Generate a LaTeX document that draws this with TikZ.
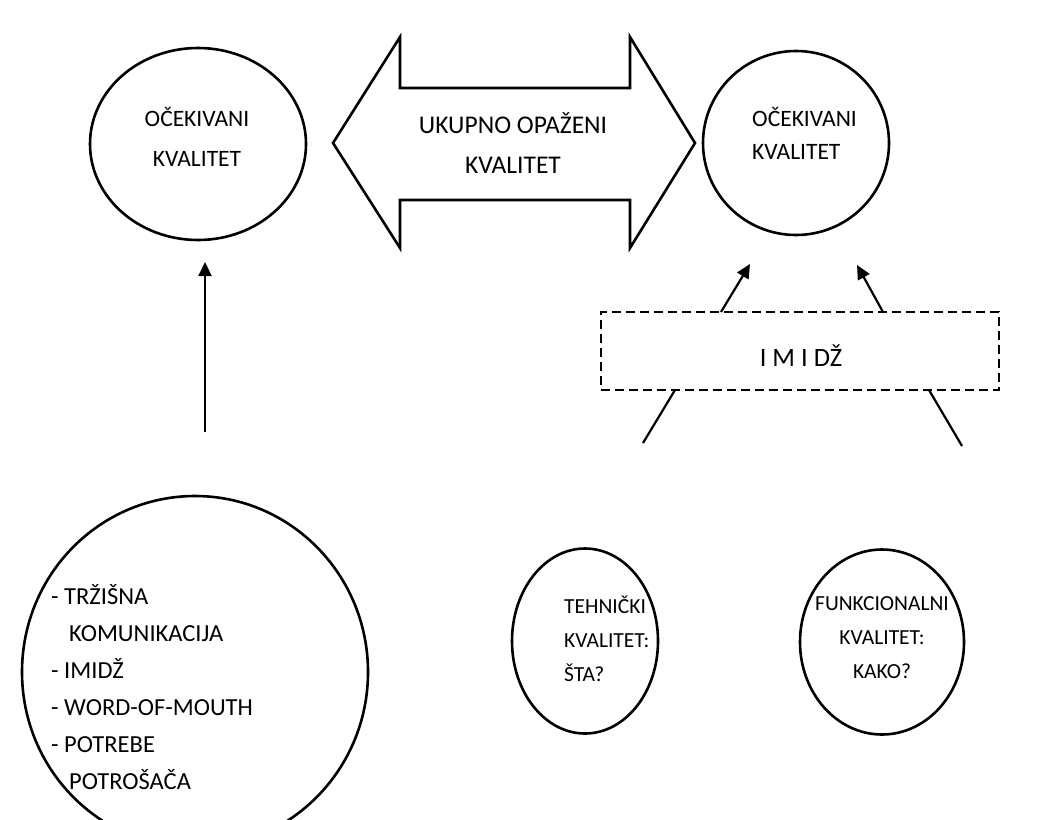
\documentclass[tikz,border=0pt]{standalone}
\usepackage{fontspec}
\setmainfont{Carlito}
\usetikzlibrary{arrows.meta,shapes.geometric}
\begin{document}
\begin{tikzpicture}[x=1pt,y=-1pt,
  bubble/.style={draw, line width=2.6pt, ellipse, inner sep=0pt},
  txt/.style={inner sep=0pt, align=#1},
  txt/.default=center,
  link/.style={line width=2.2pt, -{Triangle[length=14pt,width=13pt]}},
  plain/.style={line width=2.2pt},
  imbox/.style={draw, line width=1.8pt, dash pattern=on 9pt off 5pt}]
  \useasboundingbox (0,0) rectangle (1040,819);

  % expected quality, left
  \node[bubble, minimum width=216pt, minimum height=192pt] (expL) at (198,144) {};
  \node[txt, font=\fontsize{23.5}{40}\selectfont] (expLt) at (197,137) {OČEKIVANI\\KVALITET};

  % expected quality, right
  \node[bubble, minimum width=186pt, minimum height=184pt] (expR) at (796,143) {};
  \node[txt=left, anchor=west, font=\fontsize{23.5}{33}\selectfont] (expRt) at (752,133) {OČEKIVANI\\KVALITET};

  % total perceived quality: double-headed block arrow
  \draw[line width=2.6pt, line join=miter]
    (333,143) -- (400,37) -- (400,88) -- (630,88) -- (630,37) -- (695,143)
    -- (630,248) -- (630,200) -- (400,200) -- (400,248) -- cycle;
  \node[txt, font=\fontsize{25.5}{40}\selectfont] (total) at (513,143) {UKUPNO OPAŽENI\\KVALITET};

  % left vertical arrow
  \coordinate (srcL) at (205,432);
  \coordinate (dstL) at (205,262);
  \draw[link] (srcL) -- (dstL);

  % image filter box
  \node[imbox, minimum width=398pt, minimum height=78pt, inner sep=0pt] (img) at (800,351) {};
  \node[txt, font=\fontsize{26.5}{30}\selectfont] (imgt) at (801,356) {I M I DŽ};

  \coordinate (a1s) at (721,312);
  \coordinate (a1e) at (750,264);
  \coordinate (a2s) at (883,312);
  \coordinate (a2e) at (857,265);
  \draw[link] (a1s) -- (a1e);
  \draw[link] (a2s) -- (a2e);

  \coordinate (l1s) at (643,443);
  \coordinate (l1e) at (675,390);
  \coordinate (l2s) at (962,446);
  \coordinate (l2e) at (929,390);
  \draw[plain] (l1s) -- (l1e);
  \draw[plain] (l2s) -- (l2e);

  % sources of expectations
  \node[bubble, minimum width=346pt, minimum height=352pt] (src) at (195,672) {};
  \node[txt=left, anchor=north west, font=\fontsize{24.5}{37}\selectfont] (srct) at (51,584)
    {- TRŽIŠNA\\\hspace*{18pt}KOMUNIKACIJA\\- IMIDŽ\\- WORD-OF-MOUTH\\- POTREBE\\\hspace*{18pt}POTROŠAČA};

  % technical quality
  \node[bubble, minimum width=146pt, minimum height=185pt] (tech) at (585,641) {};
  \node[txt=left, anchor=north west, font=\fontsize{21.5}{34}\selectfont] (techt) at (564,596) {TEHNIČKI\\KVALITET:\\ŠTA?};

  % functional quality
  \node[bubble, minimum width=164pt, minimum height=185pt] (func) at (882,642) {};
  \node[txt, anchor=north, font=\fontsize{21.5}{34}\selectfont] (funct) at (882,596) {FUNKCIONALNI\\KVALITET:\\KAKO?};
\end{tikzpicture}
\end{document}
